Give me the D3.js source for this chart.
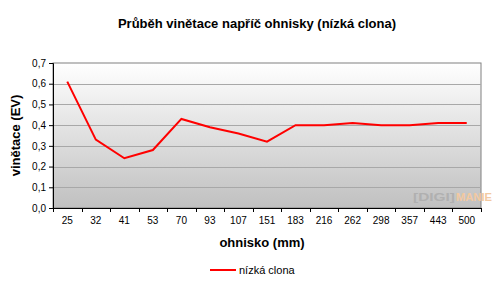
<!DOCTYPE html>
<html>
<head>
<meta charset="utf-8">
<script src="https://cdn.jsdelivr.net/npm/d3@7"></script>
<style>
	body { margin: 0; background: #fff; }
	svg { font-family: Arial, "Liberation Sans", sans-serif; }
</style>
</head>
<body>
<svg id="chart" width="498" height="292"></svg>
<script>

var categories = ["25", "32", "41", "53", "70", "93", "107", "151", "183", "216", "262", "298", "357", "443", "500"];
var values = [0.61, 0.33, 0.24, 0.28, 0.43, 0.39, 0.36, 0.32, 0.40, 0.40, 0.41, 0.40, 0.40, 0.41, 0.41];
var yTicks = [0, 0.1, 0.2, 0.3, 0.4, 0.5, 0.6, 0.7];
var seriesName = "nízká clona";

var svg = d3.select("#chart");
var [ mT, mR, mB, mL ] = [ 63, 17, 84, 53 ];		// marginTop, marginRight, ...
var width = 498, height = 292;

var x = d3.scaleBand().domain(categories).range([ mL, width-mR ]);
var y = d3.scaleLinear([0, 0.7], [ height-mB, mT ]);

var defs = svg.append("defs");
var grad = defs.append("linearGradient").attr("id", "bg").attr("x1", 0).attr("y1", 0).attr("x2", 0).attr("y2", 1);
grad.append("stop").attr("offset", "0%").attr("stop-color", "#ffffff");
grad.append("stop").attr("offset", "100%").attr("stop-color", "#c0c0c0");

// plot area
svg.append("rect")
	.attr("x", mL).attr("y", mT)
	.attr("width", width-mR-mL).attr("height", height-mB-mT)
	.attr("fill", "url(#bg)")
	.attr("stroke", "#808080");

// grid
svg.append("g")
	.selectAll("line")
	.data(yTicks.slice(1, -1))
	.join("line")
	.attr("x1", mL).attr("x2", width-mR)
	.attr("y1", d => Math.round(y(d)) + 0.5).attr("y2", d => Math.round(y(d)) + 0.5)
	.attr("stroke", "#a8a8a8");

// watermark
svg.append("text")
	.attr("x", 413).attr("y", 201)
	.attr("font-size", 11).attr("font-weight", "bold")
	.attr("fill", "#b0b0b0")
	.attr("textLength", 42).attr("lengthAdjust", "spacingAndGlyphs")
	.text("[DIGI]");
svg.append("text")
	.attr("x", 456).attr("y", 201)
	.attr("font-size", 11).attr("font-weight", "bold")
	.attr("fill", "#f3c9a0")
	.attr("textLength", 36).attr("lengthAdjust", "spacingAndGlyphs")
	.text("MANIE");

// axes
var xa = svg.append("g")
	.attr("transform", `translate(0, ${height-mB})`)
	.call(d3.axisBottom(x).tickSize(0).tickPadding(9));
xa.select(".domain").attr("stroke", "#000");
xa.selectAll("text").attr("font-size", 10).attr("fill", "#000");
xa.append("g")
	.selectAll("line")
	.data(d3.range(categories.length + 1))
	.join("line")
	.attr("x1", i => Math.round(mL + i * x.step()) + 0.5)
	.attr("x2", i => Math.round(mL + i * x.step()) + 0.5)
	.attr("y1", 0).attr("y2", 4)
	.attr("stroke", "#000");

var ya = svg.append("g")
	.attr("transform", `translate(${mL}, 0)`)
	.call(d3.axisLeft(y).tickValues(yTicks).tickSize(4).tickPadding(3)
		.tickFormat(d => d3.format(".1f")(d).replace(".", ",")));
ya.select(".domain").attr("stroke", "#000");
ya.selectAll("text").attr("font-size", 10).attr("fill", "#000");

// series line
svg.append("path")
	.datum(values)
	.attr("fill", "none")
	.attr("stroke", "#ff0000")
	.attr("stroke-width", 2)
	.attr("d", d3.line()
		.x((d, i) => x(categories[i]) + x.bandwidth()/2)
		.y(d => y(d)));

// titles
svg.append("text")
	.attr("x", 257).attr("y", 28)
	.attr("text-anchor", "middle")
	.attr("font-size", 13).attr("font-weight", "bold")
	.text("Průběh vinětace napříč ohnisky (nízká clona)");

svg.append("text")
	.attr("x", 262).attr("y", 247)
	.attr("text-anchor", "middle")
	.attr("font-size", 13).attr("font-weight", "bold")
	.text("ohnisko (mm)");

svg.append("text")
	.attr("transform", `translate(20, ${(mT + height-mB)/2}) rotate(-90)`)
	.attr("text-anchor", "middle")
	.attr("font-size", 13).attr("font-weight", "bold")
	.text("vinětace (EV)");

// legend
svg.append("line")
	.attr("x1", 210).attr("x2", 236)
	.attr("y1", 270).attr("y2", 270)
	.attr("stroke", "#ff0000").attr("stroke-width", 2);
svg.append("text")
	.attr("x", 239).attr("y", 274)
	.attr("font-size", 11)
	.text(seriesName);

</script>
</body>
</html>
